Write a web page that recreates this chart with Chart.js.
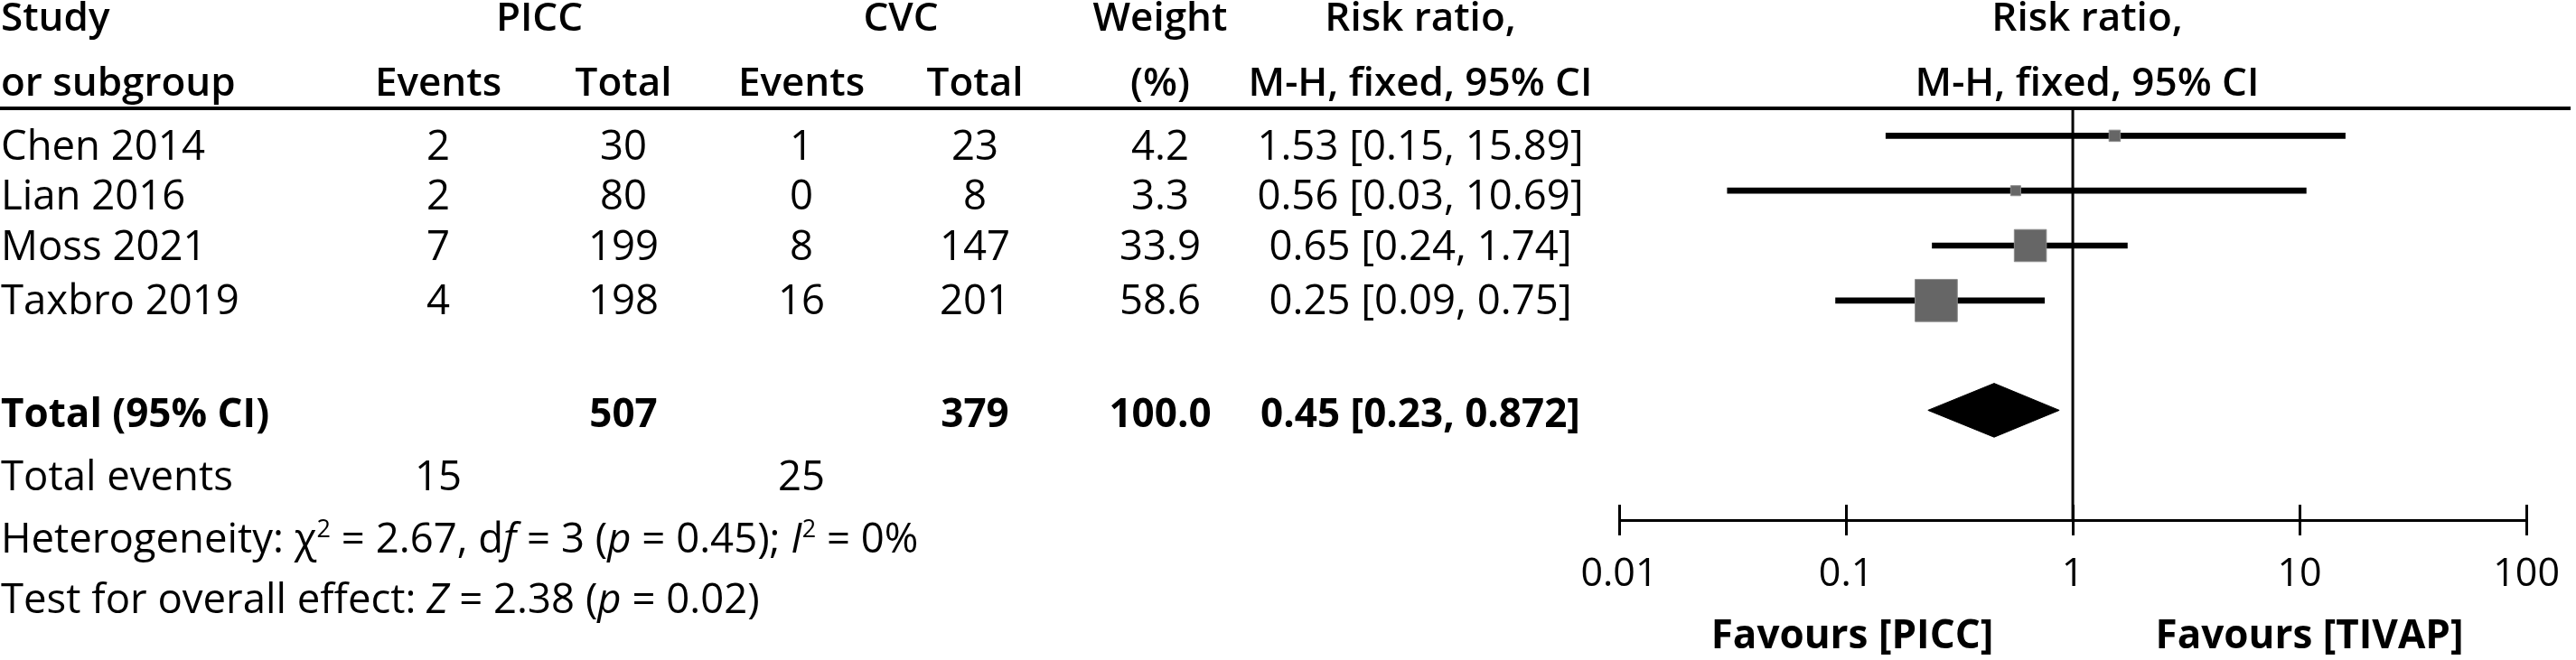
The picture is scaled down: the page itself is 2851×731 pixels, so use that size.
<!DOCTYPE html>
<html><head><meta charset="utf-8">
<script src="https://cdn.jsdelivr.net/npm/chart.js@4.4.1/dist/chart.umd.min.js"></script>
<style>html,body{margin:0;padding:0;background:#fff;overflow:hidden}canvas{display:block}</style>
</head><body>
<canvas id="c" width="2851" height="731" style="width:2851px;height:731px"></canvas>
<script>
// ---- data ----
const studies    = ['Chen 2014', 'Lian 2016', 'Moss 2021', 'Taxbro 2019'];
const piccEvents = [2, 2, 7, 4];
const piccTotal  = [30, 80, 199, 198];
const cvcEvents  = [1, 0, 8, 16];
const cvcTotal   = [23, 8, 147, 201];
const weights    = [4.2, 3.3, 33.9, 58.6];
const rr         = [1.53, 0.56, 0.65, 0.25];
const ciLow      = [0.15, 0.03, 0.24, 0.09];
const ciHigh     = [15.89, 10.69, 1.74, 0.75];
const totalLabel = 'Total (95% CI)';
const totalN     = [507, 379];          // PICC, CVC
const totalWeight = 100.0;
const totalEst   = [0.45, 0.23, 0.872]; // RR, low, high
const totalEvents = [15, 25];           // PICC, CVC
const hetStats   = [2.67, 3, 0.45, 0];  // chi2, df, p, I2
const effectStats = [2.38, 0.02];       // Z, p
const tickValues = [0.01, 0.1, 1, 10, 100];
const tickLabels = ['0.01', '0.1', '1', '10', '100'];
const favours    = ['Favours [PICC]', 'Favours [TIVAP]'];

// ---- layout (pixels) ----
const FF = "'Open Sans', sans-serif";
const FS = 45.5;
const totalRow = studies.length + 1;
const COL = {study: 1, piccE: 485, piccT: 690, cvcE: 887, cvcT: 1079, w: 1284, rr: 1572, picc: 597, cvc: 997, plot: 2310};
const TEXT_BASE = [177, 232, 288, 348];
const TOTAL_BASE = 473;

function txt(ctx, s, x, y, align, weight, size, style) {
  ctx.font = (style || 'normal') + ' ' + (weight || 400) + ' ' + (size || FS) + 'px ' + FF;
  ctx.textAlign = align || 'center';
  ctx.textBaseline = 'alphabetic';
  ctx.fillStyle = '#000';
  ctx.fillText(s, x, y);
}
function rich(ctx, parts, x, y) {
  ctx.textAlign = 'left'; ctx.textBaseline = 'alphabetic'; ctx.fillStyle = '#000';
  let cx = x;
  parts.forEach(p => {
    const [s, kind] = p;
    const size = kind === 'sup' ? 27 : FS;
    const style = kind === 'i' ? 'italic' : 'normal';
    ctx.font = style + ' 400 ' + size + 'px ' + FF;
    ctx.fillText(s, cx, kind === 'sup' ? y - 17 : y);
    cx += ctx.measureText(s).width;
  });
}

const tablePlugin = {
  id: 'table',
  afterDraw(chart) {
    const ctx = chart.ctx, xs = chart.scales.x, a = chart.chartArea;
    ctx.save();
    // header rule
    ctx.strokeStyle = '#000'; ctx.lineWidth = 4;
    ctx.beginPath(); ctx.moveTo(0, a.top); ctx.lineTo(2845, a.top); ctx.stroke();
    // upper halves of axis ticks
    ctx.lineWidth = 3;
    tickValues.forEach(v => {
      const px = Math.round(xs.getPixelForValue(v)) + 0.5;
      ctx.beginPath(); ctx.moveTo(px, a.bottom - 17); ctx.lineTo(px, a.bottom); ctx.stroke();
    });
    // headers
    const h1 = 34, h2 = 106;
    txt(ctx, 'Study', COL.study, h1, 'left', 600, 44);
    txt(ctx, 'PICC', COL.picc, h1, 'center', 600, 44);
    txt(ctx, 'CVC', COL.cvc, h1, 'center', 600, 44);
    txt(ctx, 'Weight', COL.w, h1, 'center', 600, 44);
    txt(ctx, 'Risk ratio,', COL.rr, h1, 'center', 600, 44);
    txt(ctx, 'Risk ratio,', COL.plot, h1, 'center', 600, 44);
    txt(ctx, 'or subgroup', COL.study, h2, 'left', 600, 44);
    txt(ctx, 'Events', COL.piccE, h2, 'center', 600, 44);
    txt(ctx, 'Total', COL.piccT, h2, 'center', 600, 44);
    txt(ctx, 'Events', COL.cvcE, h2, 'center', 600, 44);
    txt(ctx, 'Total', COL.cvcT, h2, 'center', 600, 44);
    txt(ctx, '(%)', COL.w, h2, 'center', 600, 44);
    txt(ctx, 'M-H, fixed, 95% CI', COL.rr, h2, 'center', 600, 44);
    txt(ctx, 'M-H, fixed, 95% CI', COL.plot, h2, 'center', 600, 44);
    // study rows
    studies.forEach((s, i) => {
      const y = TEXT_BASE[i];
      txt(ctx, s, COL.study, y, 'left');
      txt(ctx, String(piccEvents[i]), COL.piccE, y);
      txt(ctx, String(piccTotal[i]), COL.piccT, y);
      txt(ctx, String(cvcEvents[i]), COL.cvcE, y);
      txt(ctx, String(cvcTotal[i]), COL.cvcT, y);
      txt(ctx, weights[i].toFixed(1), COL.w, y);
      txt(ctx, rr[i] + ' [' + ciLow[i] + ', ' + ciHigh[i] + ']', COL.rr, y);
    });
    // total row
    const ty = TOTAL_BASE;
    txt(ctx, totalLabel, COL.study, ty, 'left', 700, 44);
    txt(ctx, String(totalN[0]), COL.piccT, ty, 'center', 700, 44);
    txt(ctx, String(totalN[1]), COL.cvcT, ty, 'center', 700, 44);
    txt(ctx, totalWeight.toFixed(1), COL.w, ty, 'center', 700, 44);
    txt(ctx, totalEst[0] + ' [' + totalEst[1] + ', ' + totalEst[2] + ']', COL.rr, ty, 'center', 700, 44);
    // footer lines
    txt(ctx, 'Total events', COL.study, 543, 'left');
    txt(ctx, String(totalEvents[0]), COL.piccE, 543);
    txt(ctx, String(totalEvents[1]), COL.cvcE, 543);
    rich(ctx, [['Heterogeneity: \u03C7', 'n'], ['2', 'sup'], [' = ' + hetStats[0] + ', d', 'n'], ['f', 'i'],
               [' = ' + hetStats[1] + ' (', 'n'], ['p', 'i'], [' = ' + hetStats[2] + '); ', 'n'], ['I', 'i'], ['2', 'sup'],
               [' = ' + hetStats[3] + '%', 'n']], COL.study, 612);
    rich(ctx, [['Test for overall effect: ', 'n'], ['Z', 'i'], [' = ' + effectStats[0] + ' (', 'n'], ['p', 'i'],
               [' = ' + effectStats[1] + ')', 'n']], COL.study, 679);
    // favours labels
    txt(ctx, favours[0], 2050, 718, 'center', 700, 44);
    txt(ctx, favours[1], 2556, 718, 'center', 700, 44);
    ctx.restore();
  }
};

const diamond = [
  {x: totalEst[1], y: totalRow},
  {x: totalEst[0], y: totalRow - 0.49},
  {x: totalEst[2], y: totalRow},
  {x: totalEst[0], y: totalRow + 0.49},
  {x: totalEst[1], y: totalRow}
];

new Chart(document.getElementById('c'), {
  type: 'bar',
  data: {
    datasets: [
      {
        type: 'scatter', label: 'Risk ratio',
        data: studies.map((s, i) => ({x: rr[i], y: i})),
        pointStyle: 'rect',
        pointRadius: c => 6.1 * Math.sqrt(weights[c.dataIndex]) / Math.SQRT2,
        pointHoverRadius: c => 6.1 * Math.sqrt(weights[c.dataIndex]) / Math.SQRT2,
        backgroundColor: '#666666', borderColor: '#8c8c8c', borderWidth: 1,
        order: 1
      },
      {
        type: 'line', label: 'Total',
        data: diamond, fill: 'shape', showLine: true,
        backgroundColor: '#000', borderColor: '#000', borderWidth: 1,
        pointRadius: 0, tension: 0, order: 2
      },
      {
        type: 'bar', label: '95% CI', indexAxis: 'y', grouped: false,
        data: studies.map((s, i) => ({y: i, x: [ciLow[i], ciHigh[i]]})),
        backgroundColor: '#000', borderWidth: 0, barThickness: 6,
        order: 3
      },
      {
        type: 'line', label: 'No effect',
        data: [{x: 1, y: -0.5}, {x: 1, y: 7}],
        borderColor: '#000', borderWidth: 3, pointRadius: 0, fill: false,
        order: 4
      }
    ]
  },
  options: {
    responsive: false, animation: false, devicePixelRatio: 1,
    layout: {padding: {left: 1792, right: 46, top: 120, bottom: 0}},
    plugins: {legend: {display: false}, tooltip: {enabled: false}},
    scales: {
      x: {
        type: 'logarithmic', min: 0.01, max: 100, offset: false,
        afterBuildTicks: s => { s.ticks = tickValues.map(v => ({value: v})); },
        afterFit: s => { s.height = 155; },
        ticks: {
          callback: (v, i) => tickLabels[i], color: '#000',
          font: {family: FF, size: 43}, padding: 18, maxRotation: 0, autoSkip: false
        },
        grid: {offset: false, drawOnChartArea: false, drawTicks: true, tickLength: 17, color: '#000', lineWidth: 3},
        border: {display: true, color: '#000', width: 3}
      },
      y: {type: 'linear', min: -0.5, max: 7, reverse: true, offset: false, grid: {offset: false}, display: false}
    }
  },
  plugins: [tablePlugin]
});
</script>
</body></html>
